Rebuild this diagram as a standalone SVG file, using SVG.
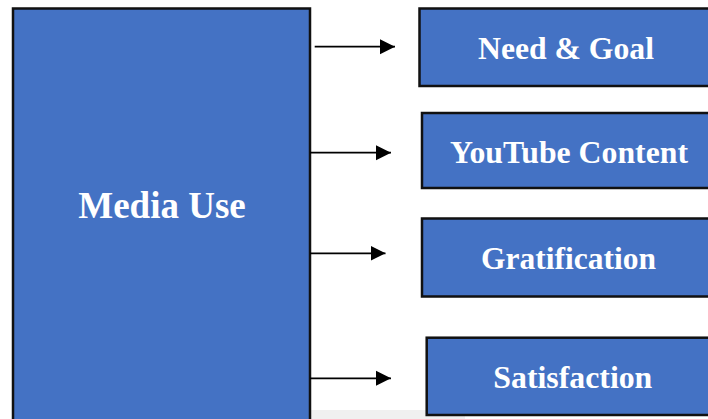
<svg xmlns="http://www.w3.org/2000/svg" width="708" height="419" viewBox="0 0 708 419">
<style>
.box{fill:#4472C4;stroke:#111;stroke-width:2.5}
.lbl{font-family:"Liberation Serif","Times New Roman",serif;font-weight:bold;fill:#fff;text-anchor:middle}
.conn{stroke:#000;stroke-width:1.8;fill:none}
</style>
<defs>
<marker id="ah" markerUnits="userSpaceOnUse" markerWidth="16" markerHeight="16" refX="15" refY="8" orient="auto">
<path d="M0,0.5 L15,8 L0,15.5 Z" fill="#000"/>
</marker>
</defs>
<rect width="708" height="419" fill="#fff"/>
<rect x="310" y="410" width="155" height="9" fill="#f0f0f0"/>
<g id="media-use">
<rect class="box" x="13" y="8.5" width="297" height="420"/>
<text class="lbl" x="162" y="218" font-size="37">Media Use</text>
</g>
<g id="need-goal">
<rect class="box" x="419.5" y="8.5" width="300" height="77.5"/>
<text class="lbl" x="566" y="59.3" font-size="32" textLength="176" lengthAdjust="spacingAndGlyphs">Need &amp; Goal</text>
</g>
<g id="youtube-content">
<rect class="box" x="422" y="113" width="300" height="75"/>
<text class="lbl" x="569" y="162.7" font-size="32" textLength="238" lengthAdjust="spacingAndGlyphs">YouTube Content</text>
</g>
<g id="gratification">
<rect class="box" x="422" y="218.5" width="300" height="78"/>
<text class="lbl" x="568.5" y="269.3" font-size="32" textLength="175" lengthAdjust="spacingAndGlyphs">Gratification</text>
</g>
<g id="satisfaction">
<rect class="box" x="426.7" y="337.7" width="300" height="77.3"/>
<text class="lbl" x="572.8" y="387.7" font-size="32" textLength="159" lengthAdjust="spacingAndGlyphs">Satisfaction</text>
</g>
<g id="connectors">
<line class="conn" x1="314.7" y1="46.7" x2="395" y2="46.7" marker-end="url(#ah)"/>
<line class="conn" x1="310" y1="152.7" x2="391" y2="152.7" marker-end="url(#ah)"/>
<line class="conn" x1="310" y1="253.3" x2="385.5" y2="253.3" marker-end="url(#ah)"/>
<line class="conn" x1="310" y1="378.3" x2="391" y2="378.3" marker-end="url(#ah)"/>
</g>
</svg>
